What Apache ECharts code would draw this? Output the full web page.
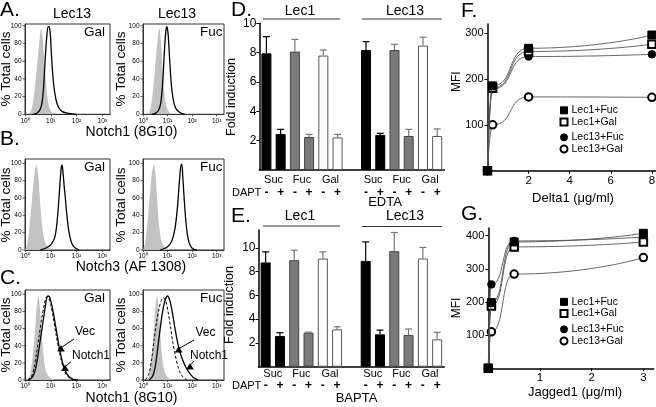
<!DOCTYPE html>
<html><head><meta charset="utf-8">
<script src="https://cdn.jsdelivr.net/npm/echarts@6/dist/echarts.min.js"></script>
<style>html,body{margin:0;padding:0;background:#fff}#c{width:656px;height:407px}</style>
</head><body><div id="c"></div><script>
const FONT = '"Liberation Sans", Arial, Helvetica, sans-serif';

// ---------- Panels A–C: flow-cytometry histograms ----------
// x = log10 fluorescence (decades), y = % total cells (normalised)
const histDecadeTicks = [0, 1, 2, 3];
const histDecadeLabels = ['10⁰', '10¹', '10²', '10³'];
const histPctTicks = [0, 20, 40, 60, 80, 100];

const aGalIso = [[0.15,0],[0.25,5],[0.35,22],[0.45,50],[0.55,80],[0.63,97],[0.7,82],[0.77,52],[0.85,25],[0.93,9],[1.02,3],[1.15,1],[1.3,0]];
const aGalN1  = [[0.3,0],[0.45,1],[0.58,5],[0.66,13],[0.72,30],[0.78,60],[0.84,86],[0.9,99],[0.95,98],[0.99,88],[1.01,76],[1.06,52],[1.12,32],[1.2,17],[1.3,8],[1.45,3],[1.7,1],[2.0,0]];
const aFucIso = [[0.2,0],[0.3,6],[0.4,25],[0.5,55],[0.6,85],[0.67,97],[0.73,82],[0.8,50],[0.88,22],[0.97,7],[1.08,2],[1.2,0]];
const aFucN1  = [[0.35,0],[0.5,1],[0.62,4],[0.72,12],[0.8,35],[0.87,70],[0.93,94],[0.98,99],[1.03,88],[1.09,60],[1.15,35],[1.23,17],[1.33,7],[1.5,2],[1.7,0]];
const bGalIso = [[0.0,0],[0.08,6],[0.17,25],[0.27,58],[0.36,85],[0.44,98],[0.5,90],[0.57,62],[0.65,32],[0.73,14],[0.83,6],[0.97,2],[1.15,0]];
const bGalN3  = [[0.6,0],[0.8,2],[0.95,5],[1.05,8],[1.15,14],[1.23,28],[1.3,52],[1.36,78],[1.41,96],[1.44,98],[1.48,88],[1.52,74],[1.56,62],[1.62,42],[1.7,22],[1.8,9],[1.92,3],[2.1,0]];
const bFucIso = [[0.0,0],[0.08,7],[0.17,28],[0.27,60],[0.36,88],[0.44,98],[0.5,90],[0.57,60],[0.65,30],[0.73,13],[0.83,5],[0.97,2],[1.15,0]];
const bFucN3  = [[0.7,0],[0.9,2],[1.05,5],[1.18,11],[1.3,24],[1.4,48],[1.48,78],[1.54,97],[1.58,99],[1.62,85],[1.68,58],[1.75,32],[1.83,14],[1.93,5],[2.05,1],[2.2,0]];
const cGalIso = [[0.1,0],[0.2,7],[0.3,28],[0.4,62],[0.47,90],[0.52,98],[0.58,84],[0.65,52],[0.73,25],[0.82,10],[0.93,4],[1.08,1],[1.2,0]];
const cGalN1  = [[0.15,0],[0.3,4],[0.4,12],[0.5,28],[0.6,48],[0.7,68],[0.8,88],[0.88,98],[0.95,97],[1.05,86],[1.15,70],[1.25,52],[1.33,38],[1.42,25],[1.52,14],[1.65,6],[1.85,1],[2.05,0]];
const cGalVec = [[0.1,0],[0.25,4],[0.35,14],[0.45,32],[0.55,52],[0.65,72],[0.75,88],[0.84,97],[0.92,96],[1.0,88],[1.1,72],[1.2,54],[1.3,38],[1.4,24],[1.5,13],[1.63,5],[1.8,1],[1.95,0]];
const cFucIso = [[0.15,0],[0.25,6],[0.35,25],[0.45,62],[0.52,90],[0.57,98],[0.63,85],[0.7,55],[0.78,27],[0.87,11],[0.98,4],[1.12,1],[1.25,0]];
const cFucN1  = [[0.25,0],[0.4,5],[0.5,16],[0.6,37],[0.7,60],[0.8,80],[0.9,93],[1.0,98],[1.1,92],[1.2,78],[1.3,61],[1.4,45],[1.5,33],[1.62,23],[1.76,14],[1.9,8],[2.05,3],[2.25,0]];
const cFucVec = [[0.1,0],[0.25,8],[0.35,24],[0.45,46],[0.55,67],[0.65,83],[0.75,93],[0.84,96],[0.93,92],[1.02,80],[1.12,62],[1.22,43],[1.32,28],[1.42,16],[1.52,8],[1.65,3],[1.8,0]];

// ---------- Panels D–E: luciferase fold induction ----------
const slotNames = ['L1-Suc-','L1-Suc+','L1-Fuc-','L1-Fuc+','L1-Gal-','L1-Gal+','gap','L13-Suc-','L13-Suc+','L13-Fuc-','L13-Fuc+','L13-Gal-','L13-Gal+'];
const slotSugar = ['Suc','Suc','Fuc','Fuc','Gal','Gal',null,'Suc','Suc','Fuc','Fuc','Gal','Gal'];
const daptSigns = ['-','+','-','+','-','+','','-','+','-','+','-','+'];
const sugarLabels = ['','Suc','','Fuc','','Gal','','','Suc','','Fuc','','Gal',''];
const fcTicks = [2, 4, 6, 8, 10];
const edtaMean = [7.95, 2.45, 8.07, 2.25, 7.8, 2.22, null, 8.18, 2.39, 8.18, 2.32, 8.48, 2.32];
const edtaErr  = [1.14, 0.32, 0.83, 0.18, 0.38, 0.21, null, 0.57, 0.11, 0.39, 0.45, 0.57, 0.48];
const baptaMean = [8.77, 2.58, 8.96, 2.86, 9.1, 3.14, null, 8.9, 2.72, 9.72, 2.66, 9.1, 2.3];
const baptaErr  = [0.89, 0.28, 0.84, 0.05, 0.56, 0.22, null, 1.6, 0.36, 1.57, 0.51, 0.93, 0.59];

// ---------- Panels F–G: ligand binding (MFI) ----------
const deltaDose = [0, 0.25, 2, 8];
const deltaLec1Fuc  = [0, 185, 267, 296];
const deltaLec1Gal  = [0, 180, 260, 276];
const deltaLec13Fuc = [0, 178, 249, 254];
const deltaLec13Gal = [0, 100, 161, 160];
const deltaTicks = [2, 4, 6, 8];
const deltaMfiTicks = [100, 200, 300];
const jagDose = [0, 0.06, 0.5, 3];
const jagLec1Fuc  = [0, 198, 381, 407];
const jagLec1Gal  = [0, 188, 366, 381];
const jagLec13Fuc = [0, 253, 384, 396];
const jagLec13Gal = [0, 110, 284, 334];
const jagTicks = [1, 2, 3];
const jagMfiTicks = [100, 200, 300, 400];
const bindNames = ['Lec1+Fuc', 'Lec1+Gal', 'Lec13+Fuc', 'Lec13+Gal'];

// ================= build option =================
const grids = [], xAxes = [], yAxes = [], series = [];
const BLACK = '#000';

const histPanels = [
  {g:{left:25, top:24, width:85, height:90.3}, ymax:102, iso:aGalIso, lines:[[aGalN1,false]]},
  {g:{left:143, top:24, width:81, height:90.3}, ymax:102, iso:aFucIso, lines:[[aFucN1,false]]},
  {g:{left:25, top:159, width:85, height:91}, ymax:105, iso:bGalIso, lines:[[bGalN3,false]]},
  {g:{left:143, top:159, width:81, height:91}, ymax:105, iso:bFucIso, lines:[[bFucN3,false]]},
  {g:{left:25, top:290, width:85, height:90}, ymax:105, iso:cGalIso, lines:[[cGalVec,true],[cGalN1,false]]},
  {g:{left:143, top:290, width:81, height:90}, ymax:105, iso:cFucIso, lines:[[cFucVec,true],[cFucN1,false]]}
];
histPanels.forEach((p, i) => {
  grids.push(Object.assign({show:true, borderColor:'#333', borderWidth:1, backgroundColor:'transparent', outerBoundsMode:'none', containLabel:false}, p.g));
  xAxes.push({type:'value', gridIndex:i, position:'bottom', min:0, max:3.3,
    axisLine:{show:true, onZero:false, lineStyle:{color:'#333', width:1}}, splitLine:{show:false},
    axisTick:{show:true, length:2, customValues:histDecadeTicks, lineStyle:{color:'#333', width:0.8}},
    axisLabel:{show:true, customValues:histDecadeTicks, hideOverlap:false, formatter:v => histDecadeLabels[Math.round(v)] || '', fontSize:6.5, margin:3, color:'#000', fontFamily:FONT}});
  yAxes.push({type:'value', gridIndex:i, position:'left', min:0, max:p.ymax,
    axisLine:{show:true, onZero:false, lineStyle:{color:'#333', width:1}}, splitLine:{show:false},
    axisTick:{show:false}, axisLabel:{show:false}});
  series.push({type:'line', xAxisIndex:i, yAxisIndex:i, data:p.iso, symbol:'none', smooth:0.3,
    lineStyle:{width:0}, areaStyle:{color:'#c2c2c2', opacity:1}, z:1});
  p.lines.forEach(([d, dash]) => series.push({type:'line', xAxisIndex:i, yAxisIndex:i, data:d, symbol:'none', smooth:0.3,
    lineStyle:{color:BLACK, width:dash ? 1 : 1.3, type: dash ? [3, 2] : 'solid'}, z: dash ? 2 : 3}));
});

// D and E
const sugarFill = {Suc:'#000', Fuc:'#7a7a7a', Gal:'#fff'};
const sugarBorder = {Suc:'#000', Fuc:'#444', Gal:'#555'};
const sugarErr = {Suc:'#000', Fuc:'#777', Gal:'#777'};
function barPanel(gi, xi, yi, g, ymax, mean, err) {
  grids.push(Object.assign({show:false, outerBoundsMode:'none', containLabel:false}, g.grid));
  xAxes.push({type:'category', gridIndex:gi, position:'bottom', data:slotNames, boundaryGap:true,
    axisLine:{show:true, lineStyle:{color:BLACK, width:1.5}}, axisTick:{show:false},
    axisLabel:{interval:0, formatter:(v, idx) => daptSigns[idx], fontSize:12, fontWeight:'bold', margin:g.signMargin, color:'#000', fontFamily:FONT}});
  xAxes.push({type:'category', gridIndex:gi, position:'bottom', offset:0, data:sugarLabels.map((s, k) => 'b' + k), boundaryGap:false,
    axisLine:{show:false}, axisTick:{show:false},
    axisLabel:{interval:0, formatter:(v, idx) => sugarLabels[idx], fontSize:11, margin:g.sugarMargin, color:'#000', fontFamily:FONT}});
  yAxes.push({type:'value', gridIndex:gi, min:0, max:ymax, splitLine:{show:false},
    axisLine:{show:true, lineStyle:{color:BLACK, width:1.5}},
    axisTick:{show:true, length:3, customValues:fcTicks, lineStyle:{color:BLACK}},
    axisLabel:{customValues:fcTicks, fontSize:12, margin:3, color:'#000', fontFamily:FONT}});
  series.push({type:'bar', xAxisIndex:xi, yAxisIndex:yi, barWidth:10,
    data: mean.map((m, k) => m == null ? '-' : {value:m, itemStyle:{color:sugarFill[slotSugar[k]], borderColor:sugarBorder[slotSugar[k]], borderWidth:1}}), z:2});
  const errData = [];
  mean.forEach((m, k) => { if (m != null) errData.push([k, m, err[k], k]); });
  series.push({type:'custom', xAxisIndex:xi, yAxisIndex:yi, data:errData, z:3,
    renderItem:(params, api) => {
      const k = api.value(0), m = api.value(1), e = api.value(2);
      const p0 = api.coord([k, m]), p1 = api.coord([k, m + e]);
      const col = sugarErr[slotSugar[k]];
      return {type:'group', children:[
        {type:'line', shape:{x1:p0[0], y1:p0[1], x2:p1[0], y2:p1[1]}, style:{stroke:col, lineWidth:1.2}},
        {type:'line', shape:{x1:p1[0]-3.5, y1:p1[1], x2:p1[0]+3.5, y2:p1[1]}, style:{stroke:col, lineWidth:1.2}}
      ]};
    }});
}
barPanel(6, 6, 6, {grid:{left:259.3, top:23.3, width:185, height:146.7}, signMargin:16.5, sugarMargin:4}, 10, edtaMean, edtaErr);
barPanel(7, 8, 7, {grid:{left:258.5, top:230, width:185.8, height:136.7}, signMargin:12.5, sugarMargin:2}, 11.5, baptaMean, baptaErr);

// F and G
function bindPanel(gi, xi, yi, g, xmax, ymax, xt, yt, dose, vals) {
  grids.push(Object.assign({show:false, outerBoundsMode:'none', containLabel:false}, g));
  xAxes.push({type:'value', gridIndex:gi, min:0, max:xmax, splitLine:{show:false},
    axisLine:{show:true, lineStyle:{color:BLACK, width:1.5}},
    axisTick:{show:true, length:3, customValues:xt, lineStyle:{color:BLACK}},
    axisLabel:{customValues:xt, fontSize:11.5, margin:4, color:'#000', fontFamily:FONT}});
  yAxes.push({type:'value', gridIndex:gi, min:0, max:ymax, splitLine:{show:false},
    axisLine:{show:true, lineStyle:{color:BLACK, width:1.5}},
    axisTick:{show:true, length:3, customValues:yt, lineStyle:{color:BLACK}},
    axisLabel:{customValues:yt, fontSize:11, margin:4, color:'#000', fontFamily:FONT}});
  const sym = ['rect', 'emptyRect', 'circle', 'emptyCircle'];
  const size = [8, 7.5, 7.5, 7.5];
  [3, 2, 1, 0].forEach(s => series.push({type:'line', name:bindNames[s], xAxisIndex:xi, yAxisIndex:yi,
    data: dose.map((d, k) => [d, vals[s][k]]), smooth:0.6, smoothMonotone:'x',
    symbol:sym[s], symbolSize:size[s], showAllSymbol:true,
    lineStyle:{color:'#555', width:0.9}, itemStyle:{color:'#000', borderColor:'#000', borderWidth:1}, z:5 + (3 - s)}));
}
bindPanel(8, 10, 8, {left:487.5, top:24, width:168.5, height:146.7}, 8.2, 320, deltaTicks, deltaMfiTicks, deltaDose,
  [deltaLec1Fuc, deltaLec1Gal, deltaLec13Fuc, deltaLec13Gal]);
bindPanel(9, 11, 9, {left:488.3, top:228, width:165.4, height:140.3}, 3.2, 423, jagTicks, jagMfiTicks, jagDose,
  [jagLec1Fuc, jagLec1Gal, jagLec13Fuc, jagLec13Gal]);

const legIcons = {'Lec1+Fuc':'rect', 'Lec1+Gal':'emptyRect', 'Lec13+Fuc':'circle', 'Lec13+Gal':'emptyCircle'};
function leg(names, left, top) {
  return {show:true, orient:'vertical', left, top, padding:0, itemGap:0, itemWidth:7, itemHeight:7, selectedMode:false,
    data: names.map(n => ({name:n, icon:legIcons[n], itemStyle:{borderWidth:1, borderColor:'#000'}})),
    textStyle:{fontSize:10.5, color:'#000', fontFamily:FONT, lineHeight:11.7, padding:[0,0,0,-1]}};
}
const legends = [
  leg(bindNames.slice(0,2), 559.5, 104.5), leg(bindNames.slice(2,4), 559.5, 131.5),
  leg(bindNames.slice(0,2), 559.5, 296), leg(bindNames.slice(2,4), 559.5, 323.5)
];

// ---------- text / annotation graphics ----------
function T(text, x, y, size, o) {
  o = o || {};
  return {type:'text', x, y, rotation:o.rot || 0, z:100,
    style:{text, fontSize:size, fontFamily:FONT, fill:'#000', fontWeight:o.bold ? 'bold' : 'normal',
      align:o.align || 'center', textAlign:o.align || 'center', verticalAlign:'middle', textVerticalAlign:'middle'}};
}
function L(x1, y1, x2, y2, w, col) { return {type:'line', z:100, shape:{x1, y1, x2, y2}, style:{stroke:col || '#000', lineWidth:w || 1}}; }
function Tri(cx, cy) { return {type:'polygon', z:100, shape:{points:[[cx, cy-3.5],[cx-3.8, cy+3],[cx+3.8, cy+3]]}, style:{fill:'#000'}}; }
const R90 = Math.PI / 2;
const gfx = [
  T('A.', 0, 10.5, 21, {align:'left'}), T('B.', 0, 139.5, 21, {align:'left'}), T('C.', 0, 278.5, 21, {align:'left'}),
  T('D.', 231, 10.5, 21, {align:'left'}), T('E.', 231, 216, 21, {align:'left'}),
  T('F.', 461, 11, 21, {align:'left'}), T('G.', 461, 214.5, 21, {align:'left'}),
  T('Lec13', 72, 14, 14), T('Lec13', 177, 14, 14),
  T('Gal', 105, 32, 13.5, {align:'right'}), T('Fuc', 222.5, 32, 13.5, {align:'right'}),
  T('Gal', 105, 167, 13.5, {align:'right'}), T('Fuc', 222.5, 167, 13.5, {align:'right'}),
  T('Gal', 105, 298.5, 13.5, {align:'right'}), T('Fuc', 222.5, 298.5, 13.5, {align:'right'}),
  T('Notch1 (8G10)', 131.5, 132, 14), T('Notch3 (AF 1308)', 131, 267, 14), T('Notch1 (8G10)', 131.5, 398, 14),
  T('% Total cells', 6, 69, 13.5, {rot:R90}), T('% Total cells', 121.5, 69, 13.5, {rot:R90}),
  T('% Total cells', 6, 205, 13.5, {rot:R90}), T('% Total cells', 121.5, 205, 13.5, {rot:R90}),
  T('% Total cells', 6, 335, 13.5, {rot:R90}), T('% Total cells', 121.5, 335, 13.5, {rot:R90}),
  // C annotations
  T('Vec', 85, 332, 12), L(74, 339, 62, 347), Tri(61, 348.5),
  T('Notch1', 72, 355.5, 12, {align:'left'}), L(71, 361.5, 66, 366), Tri(65, 368),
  T('Vec', 205.5, 333, 12), L(194, 340, 180, 348), Tri(178.7, 349.5),
  T('Notch1', 190, 356, 12, {align:'left'}), L(194, 361, 191, 364.5), Tri(190, 366.5),
  // D
  T('Lec1', 300, 10.7, 14), L(263, 19, 340, 19, 0.8), T('Lec13', 405, 10.7, 14), L(362, 19, 442, 19, 0.8),
  T('Fold induction', 232, 97, 12.5, {rot:R90}),
  T('DAPT', 232, 192.7, 11, {align:'left'}), T('EDTA', 385, 202, 13),
  // E
  T('Lec1', 300, 216, 14), L(263, 226, 340, 226, 0.8), T('Lec13', 405, 216, 14), L(362, 226.5, 442, 226.5, 0.8),
  T('Fold induction', 230, 305, 12.5, {rot:R90}),
  T('DAPT', 232, 386, 11, {align:'left'}), T('BAPTA', 356.5, 398.7, 13),
  // F, G
  T('MFI', 456.7, 81.7, 12, {rot:R90}), T('Delta1 (μg/ml)', 573, 198, 13),
  T('MFI', 456.7, 308, 12, {rot:R90}), T('Jagged1 (μg/ml)', 575, 392.7, 13)
];

// Histogram % ticks and labels: placed from each histogram's y range (0..ymax over the grid height).
histPanels.forEach(p => {
  histPctTicks.forEach(v => {
    const y = p.g.top + p.g.height * (1 - v / p.ymax);
    const x = p.g.left;
    gfx.push(L(x - 2.5, y, x, y, 0.8, '#333'));
    gfx.push(T(String(v), x - 3.5, y, 6.5, {align:'right'}));
  });
});

const chart = echarts.init(document.getElementById('c'), null, {renderer:'canvas'});
chart.setOption({
  animation:false, backgroundColor:'#fff',
  textStyle:{fontFamily:FONT, color:'#000'},
  grid:grids, xAxis:xAxes, yAxis:yAxes, series, legend:legends, graphic:gfx, tooltip:{show:false}
});
</script></body></html>
